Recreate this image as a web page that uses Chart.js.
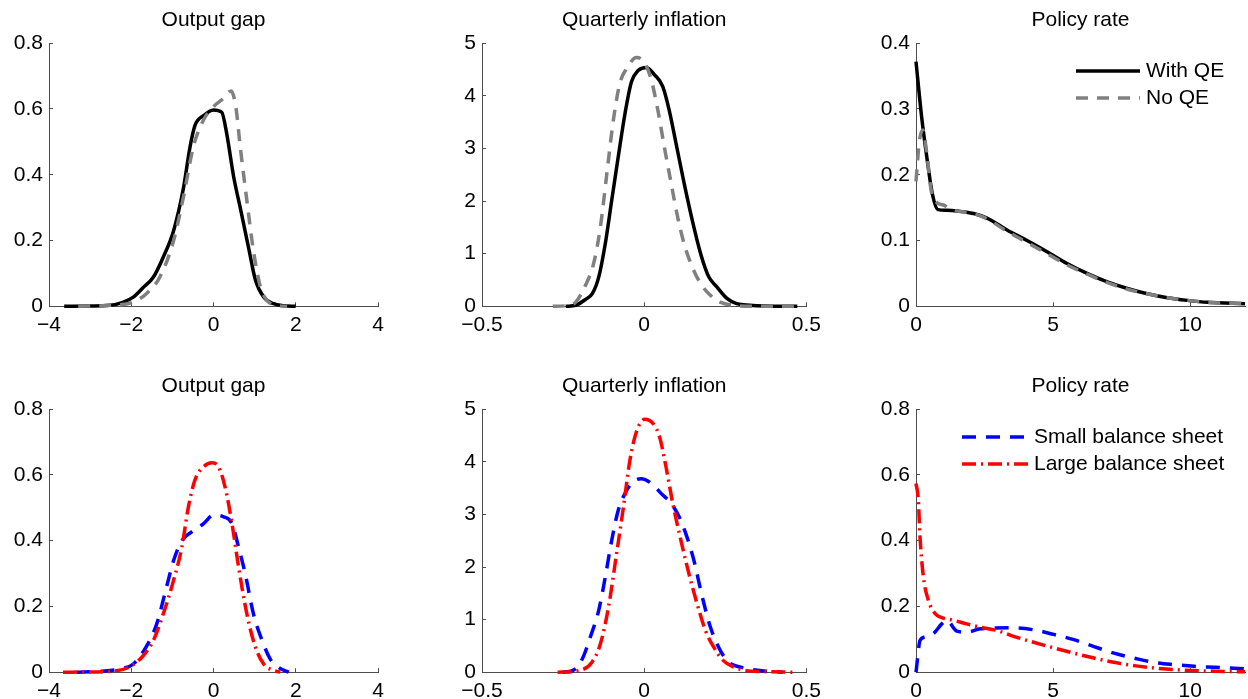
<!DOCTYPE html>
<html>
<head>
<meta charset="utf-8">
<script src="https://cdn.jsdelivr.net/npm/chart.js@4.4.1/dist/chart.umd.min.js"></script>
<style>
  body { margin: 0; background: #fff; overflow: hidden; }
  canvas { position: absolute; }
</style>
</head>
<body>
<canvas id="gapTop"></canvas>
<canvas id="inflTop"></canvas>
<canvas id="rateTop"></canvas>
<canvas id="gapBottom"></canvas>
<canvas id="inflBottom"></canvas>
<canvas id="rateBottom"></canvas>
<script>
// ---- data ----
const titles = ['Output gap', 'Quarterly inflation', 'Policy rate'];
const labelsTop = ['With QE', 'No QE'];
const labelsBottom = ['Small balance sheet', 'Large balance sheet'];

const gapTicksX = [-4, -2, 0, 2, 4];
const gapTicksY = [0, 0.2, 0.4, 0.6, 0.8];
const inflTicksX = [-0.5, 0, 0.5];
const inflTicksY = [0, 1, 2, 3, 4, 5];
const rateTicksX = [0, 5, 10];
const rateTicksYTop = [0, 0.1, 0.2, 0.3, 0.4];
const rateTicksYBottom = [0, 0.2, 0.4, 0.6, 0.8];

// top row: with / without QE
const gapQE_x = [-3.63, -3.0, -2.52, -2.19, -1.95, -1.71, -1.46, -1.22, -0.97, -0.73, -0.57, -0.45, -0.24, 0, 0.2, 0.32, 0.49, 0.65, 0.85, 1.02, 1.22, 1.46, 1.71, 2.0];
const gapQE_y = [0, 0.001, 0.003, 0.013, 0.028, 0.057, 0.089, 0.15, 0.23, 0.36, 0.485, 0.55, 0.58, 0.597, 0.59, 0.526, 0.394, 0.30, 0.18, 0.08, 0.028, 0.008, 0.002, 0];
const gapNoQE_x = [-3.29, -2.52, -1.95, -1.62, -1.3, -0.97, -0.73, -0.49, -0.24, 0, 0.24, 0.43, 0.55, 0.65, 0.81, 0.97, 1.14, 1.3, 1.54, 1.79];
const gapNoQE_y = [0, 0.003, 0.013, 0.04, 0.09, 0.2, 0.333, 0.485, 0.567, 0.607, 0.632, 0.655, 0.6, 0.485, 0.323, 0.17, 0.059, 0.018, 0.003, 0];

const inflQE_x = [-0.242, -0.211, -0.181, -0.16, -0.14, -0.12, -0.1, -0.08, -0.059, -0.039, -0.019, 0.007, 0.032, 0.057, 0.077, 0.098, 0.123, 0.148, 0.174, 0.199, 0.224, 0.255, 0.285, 0.326, 0.376, 0.472];
const inflQE_y = [0, 0.02, 0.13, 0.24, 0.56, 1.19, 2.02, 2.84, 3.67, 4.27, 4.48, 4.54, 4.4, 4.18, 3.73, 3.1, 2.34, 1.64, 1.0, 0.56, 0.37, 0.15, 0.05, 0.02, 0.006, 0];
const inflNoQE_x = [-0.282, -0.242, -0.211, -0.181, -0.156, -0.135, -0.115, -0.095, -0.075, -0.054, -0.024, 0.002, 0.022, 0.042, 0.062, 0.083, 0.103, 0.123, 0.148, 0.174, 0.204, 0.234, 0.275, 0.326, 0.47];
const inflNoQE_y = [0, 0.01, 0.08, 0.4, 0.81, 1.51, 2.53, 3.54, 4.24, 4.52, 4.73, 4.62, 4.3, 3.73, 3.03, 2.34, 1.7, 1.19, 0.75, 0.43, 0.21, 0.08, 0.02, 0, 0];

const rateQE_x = [0, 0.2, 0.4, 0.6, 0.8, 1.12, 1.49, 2.1, 2.59, 3.32, 4.05, 4.78, 5.51, 6.24, 6.98, 7.71, 8.44, 9.17, 9.9, 10.63, 12];
const rateQE_y = [0.372, 0.29, 0.225, 0.17, 0.147, 0.146, 0.145, 0.141, 0.134, 0.116, 0.1, 0.083, 0.065, 0.05, 0.037, 0.027, 0.019, 0.013, 0.009, 0.006, 0.004];
const rateNoQE_x = [0, 0.12, 0.25, 0.4, 0.55, 0.75, 1.0, 1.3, 2.1, 2.59, 3.32, 4.05, 4.78, 5.51, 6.24, 6.98, 7.71, 8.44, 9.17, 9.9, 10.63, 12];
const rateNoQE_y = [0.19, 0.25, 0.268, 0.23, 0.177, 0.158, 0.154, 0.147, 0.141, 0.133, 0.114, 0.097, 0.08, 0.063, 0.049, 0.036, 0.026, 0.019, 0.013, 0.009, 0.006, 0.004];

// bottom row: small / large balance sheet
const gapSmall_x = [-3.33, -2.76, -2.27, -1.95, -1.62, -1.38, -1.14, -0.97, -0.77, -0.53, -0.24, 0, 0.24, 0.45, 0.61, 0.77, 0.97, 1.18, 1.38, 1.58, 1.83];
const gapSmall_y = [0, 0.003, 0.01, 0.025, 0.081, 0.147, 0.26, 0.34, 0.4, 0.427, 0.452, 0.478, 0.473, 0.452, 0.38, 0.3, 0.178, 0.097, 0.04, 0.015, 0];
const gapLarge_x = [-3.66, -2.44, -2.03, -1.71, -1.46, -1.22, -0.97, -0.77, -0.61, -0.45, -0.24, -0.04, 0.12, 0.28, 0.45, 0.61, 0.81, 1.02, 1.22, 1.42, 1.62];
const gapLarge_y = [0, 0.003, 0.017, 0.05, 0.097, 0.178, 0.28, 0.38, 0.503, 0.585, 0.625, 0.637, 0.625, 0.564, 0.452, 0.32, 0.178, 0.076, 0.025, 0.007, 0];

const inflSmall_x = [-0.252, -0.221, -0.191, -0.166, -0.14, -0.12, -0.1, -0.08, -0.059, -0.034, -0.009, 0.022, 0.052, 0.083, 0.108, 0.128, 0.153, 0.179, 0.204, 0.229, 0.26, 0.295, 0.336, 0.376, 0.427];
const inflSmall_y = [0, 0.03, 0.25, 0.67, 1.18, 1.81, 2.51, 3.08, 3.4, 3.62, 3.68, 3.59, 3.4, 3.21, 2.95, 2.64, 2.13, 1.43, 0.86, 0.48, 0.19, 0.1, 0.045, 0.02, 0];
const inflLarge_x = [-0.267, -0.201, -0.161, -0.135, -0.11, -0.085, -0.064, -0.044, -0.024, 0.002, 0.027, 0.047, 0.067, 0.088, 0.113, 0.138, 0.163, 0.189, 0.214, 0.244, 0.275, 0.315, 0.366, 0.457];
const inflLarge_y = [0, 0.03, 0.19, 0.54, 1.24, 2.26, 3.14, 4.03, 4.57, 4.81, 4.73, 4.48, 3.91, 3.21, 2.51, 1.87, 1.3, 0.79, 0.48, 0.22, 0.1, 0.03, 0.013, 0];

const rateSmall_x = [0, 0.15, 0.33, 0.63, 0.94, 1.12, 1.49, 1.85, 2.34, 2.83, 3.56, 4.29, 5.02, 5.76, 6.49, 7.22, 7.95, 8.68, 9.41, 10.15, 10.88, 12];
const rateSmall_y = [0, 0.097, 0.107, 0.117, 0.147, 0.158, 0.125, 0.122, 0.132, 0.134, 0.135, 0.129, 0.115, 0.099, 0.078, 0.058, 0.043, 0.03, 0.023, 0.018, 0.015, 0.01];
const rateLarge_x = [0, 0.085, 0.146, 0.27, 0.45, 0.7, 0.94, 1.37, 1.85, 2.34, 2.95, 3.56, 4.29, 5.02, 5.76, 6.49, 7.22, 7.95, 8.68, 9.41, 10.15, 10.88, 12];
const rateLarge_y = [0.574, 0.524, 0.412, 0.29, 0.219, 0.178, 0.166, 0.158, 0.147, 0.137, 0.127, 0.109, 0.091, 0.074, 0.058, 0.043, 0.03, 0.02, 0.013, 0.008, 0.005, 0.003, 0.001];

// ---- styling ----
const FONT = '"Liberation Sans", Arial, Helvetica, sans-serif';
const AXIS = '#4d4d4d';
const styleQE = { color: '#000000', dash: [], order: 2 };
const styleNoQE = { color: '#808080', dash: [12, 9], order: 1 };
const styleSmall = { color: '#0000ff', dash: [14, 10], order: 2 };
const styleLarge = { color: '#ff0000', dash: [14, 5, 2, 5], order: 1 };

function zip(xs, ys) {
  return xs.map((x, i) => ({ x, y: ys[i] }));
}

function fmt(v) {
  return String(v).replace('-', '\u2212');
}

// draws the little line legend inside the policy-rate panels
const lineLegend = {
  id: 'lineLegend',
  afterDraw(chart, args, opts) {
    const { ctx } = chart;
    ctx.save();
    chart.data.datasets.forEach((ds, i) => {
      const y = opts.y + i * opts.rowH;
      ctx.strokeStyle = ds.borderColor;
      ctx.lineWidth = ds.borderWidth;
      ctx.setLineDash(ds.borderDash || []);
      ctx.beginPath();
      ctx.moveTo(opts.x, y);
      ctx.lineTo(opts.x + opts.len, y);
      ctx.stroke();
      ctx.setLineDash([]);
      ctx.fillStyle = '#000';
      ctx.font = '21px ' + FONT;
      ctx.textAlign = 'left';
      ctx.textBaseline = 'middle';
      ctx.fillText(ds.label, opts.x + opts.len + 6, y);
    });
    ctx.restore();
  },
};

function axis(range, ticks, size, key) {
  return {
    type: 'linear',
    min: range[0],
    max: range[1],
    afterFit: (s) => { s[key] = size; },
    afterBuildTicks: (s) => { s.ticks = ticks.map((v) => ({ value: v })); },
    ticks: {
      callback: fmt,
      padding: 10,
      color: '#000',
      autoSkip: false,
      maxRotation: 0,
      font: { family: FONT, size: 21 },
    },
    grid: { drawOnChartArea: false, drawTicks: true, tickLength: -4, color: AXIS, lineWidth: 1 },
    border: { display: true, color: AXIS, width: 1 },
  };
}

function makePanel(id, box, title, xRange, yRange, xTicks, yTicks, series, legend) {
  const canvas = document.getElementById(id);
  canvas.width = box.w;
  canvas.height = box.h;
  canvas.style.left = box.left + 'px';
  canvas.style.top = box.top + 'px';

  return new Chart(canvas, {
    type: 'line',
    data: {
      datasets: series.map((s) => ({
        label: s.label,
        data: zip(s.x, s.y),
        borderColor: s.style.color,
        backgroundColor: s.style.color,
        borderWidth: 3.5,
        borderDash: s.style.dash,
        order: s.style.order,
        pointRadius: 0,
        fill: false,
        cubicInterpolationMode: 'monotone',
        clip: false,
      })),
    },
    options: {
      responsive: false,
      animation: false,
      events: [],
      layout: { padding: { right: box.padR, top: 0, left: 0, bottom: 0 } },
      plugins: {
        legend: { display: false },
        tooltip: { enabled: false },
        title: {
          display: true,
          fullSize: false,
          text: title,
          color: '#000',
          font: { family: FONT, size: 21, weight: 'normal' },
          padding: { top: 8, bottom: 10 },
        },
        lineLegend: legend,
      },
      scales: {
        x: axis(xRange, xTicks, box.xh, 'height'),
        y: axis(yRange, yTicks, box.yw, 'width'),
      },
    },
    plugins: legend ? [lineLegend] : [],
  });
}

// panel boxes: canvas position/size, y-axis width, x-axis height
const topH = 345;
const botTop = 366;
const botH = 699 - botTop;

makePanel('gapTop', { left: 0, top: 0, w: 398, h: topH, yw: 49, xh: 38.7, padR: 20 },
  titles[0], [-4, 4], [0, 0.8], gapTicksX, gapTicksY, [
    { label: labelsTop[0], x: gapQE_x, y: gapQE_y, style: styleQE },
    { label: labelsTop[1], x: gapNoQE_x, y: gapNoQE_y, style: styleNoQE },
  ]);

makePanel('inflTop', { left: 420, top: 0, w: 411, h: topH, yw: 62, xh: 38.7, padR: 20 },
  titles[1], [-0.5, 0.5], [0, 5], inflTicksX, inflTicksY, [
    { label: labelsTop[0], x: inflQE_x, y: inflQE_y, style: styleQE },
    { label: labelsTop[1], x: inflNoQE_x, y: inflNoQE_y, style: styleNoQE },
  ]);

makePanel('rateTop', { left: 840, top: 0, w: 408, h: topH, yw: 76, xh: 38.7, padR: 3 },
  titles[2], [0, 12], [0, 0.4], rateTicksX, rateTicksYTop, [
    { label: labelsTop[0], x: rateQE_x, y: rateQE_y, style: styleQE },
    { label: labelsTop[1], x: rateNoQE_x, y: rateNoQE_y, style: styleNoQE },
  ], { x: 236, y: 71, len: 64, rowH: 27 });

makePanel('gapBottom', { left: 0, top: botTop, w: 398, h: botH, yw: 49, xh: 26.8, padR: 20 },
  titles[0], [-4, 4], [0, 0.8], gapTicksX, gapTicksY, [
    { label: labelsBottom[0], x: gapSmall_x, y: gapSmall_y, style: styleSmall },
    { label: labelsBottom[1], x: gapLarge_x, y: gapLarge_y, style: styleLarge },
  ]);

makePanel('inflBottom', { left: 420, top: botTop, w: 411, h: botH, yw: 62, xh: 26.8, padR: 20 },
  titles[1], [-0.5, 0.5], [0, 5], inflTicksX, inflTicksY, [
    { label: labelsBottom[0], x: inflSmall_x, y: inflSmall_y, style: styleSmall },
    { label: labelsBottom[1], x: inflLarge_x, y: inflLarge_y, style: styleLarge },
  ]);

makePanel('rateBottom', { left: 840, top: botTop, w: 408, h: botH, yw: 76, xh: 26.8, padR: 3 },
  titles[2], [0, 12], [0, 0.8], rateTicksX, rateTicksYBottom, [
    { label: labelsBottom[0], x: rateSmall_x, y: rateSmall_y, style: styleSmall },
    { label: labelsBottom[1], x: rateLarge_x, y: rateLarge_y, style: styleLarge },
  ], { x: 122, y: 71, len: 66, rowH: 27 });
</script>
</body>
</html>
